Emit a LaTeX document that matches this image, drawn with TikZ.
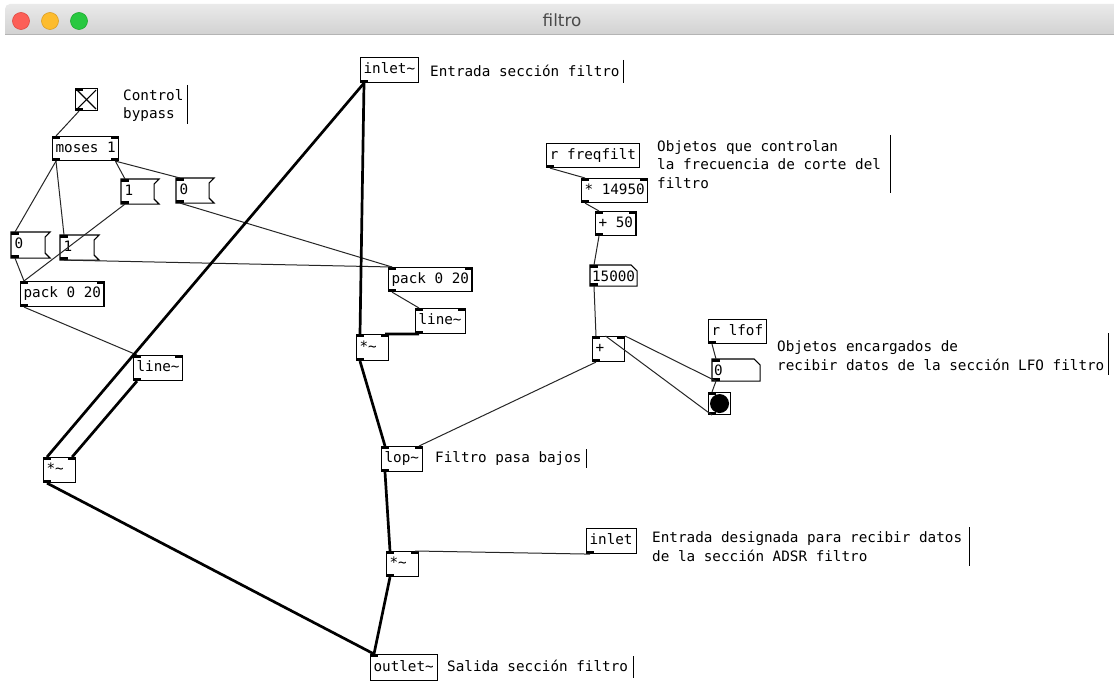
\documentclass[tikz,border=0pt]{standalone}
\usepackage{fontspec}
\newfontfamily\pdfont[WordSpace={1,0,0}]{DejaVu Sans Mono}
\newfontfamily\titlefont{DejaVu Sans}
\definecolor{tbtop}{HTML}{EAEAEA}
\definecolor{tbbot}{HTML}{D2D2D2}
\definecolor{tbline}{HTML}{B4B4B4}
\definecolor{tbtext}{HTML}{4A4A4A}
\definecolor{lred}{HTML}{FC5F57}
\definecolor{lredE}{HTML}{DE4A42}
\definecolor{lyel}{HTML}{FDBC2E}
\definecolor{lyelE}{HTML}{DC9E25}
\definecolor{lgrn}{HTML}{28C840}
\definecolor{lgrnE}{HTML}{1DAA2F}
% inlet / outlet markers of a box
\newcommand\inletL[1]{\fill (#1.north west) rectangle ++(8,3);}
\newcommand\inletR[1]{\fill (#1.north east) rectangle ++(-8,3);}
\newcommand\outletL[1]{\fill (#1.south west) rectangle ++(8,-3);}
\newcommand\outletR[1]{\fill (#1.south east) rectangle ++(-8,-3);}
% message box outline (flag on the right side)
\newcommand\msgframe[1]{\draw[boxline] (#1.north west) -- (#1.north east)
  -- ([shift={(-5,5)}]#1.north east) -- ([shift={(-5,-5)}]#1.south east)
  -- (#1.south east) -- (#1.south west) -- cycle;}
% number box outline (clipped top right corner)
\newcommand\numframe[1]{\draw[boxline] (#1.north west) -- ([shift={(-6,0)}]#1.north east)
  -- ([shift={(0,6)}]#1.north east) -- (#1.south east) -- (#1.south west) -- cycle;}
\begin{document}
\begin{tikzpicture}[x=1pt,y=-1pt,
  pd/.style={font={\pdfont\fontsize{14.3pt}{18.5pt}\selectfont}, text=black},
  boxline/.style={line width=1.1pt},
  box/.style={pd, draw, boxline, inner xsep=3pt, inner ysep=0pt, anchor=north west,
    align=left, text height=10.5pt, text depth=3pt, minimum height=24pt},
  atom/.style={box, draw=none},
  numatom/.style={atom, inner xsep=1.5pt, text height=12pt, text depth=1pt},
  ctl/.style={line width=1pt, black!85},
  sig/.style={line width=2.7pt},
  note/.style={pd, anchor=base west, inner sep=0pt, align=left},
  notebar/.style={line width=1pt},
  gui/.style={draw, boxline, inner sep=0pt, minimum size=22pt, anchor=north west},
]
\useasboundingbox (0,0) rectangle (1114,695);
\fill[white] (0,0) rectangle (1114,695);

% window title bar
\shade[top color=tbtop, bottom color=tbbot] (5,34) [rounded corners=5pt] -- (5,4) -- (1120,4) [sharp corners] -- (1120,34) -- cycle;
\draw[tbline, line width=1pt] (5,34.5) -- (1114,34.5);
\filldraw[fill=lred, draw=lredE, line width=0.6pt] (21,21) circle (8.5);
\filldraw[fill=lyel, draw=lyelE, line width=0.6pt] (50,21) circle (8.5);
\filldraw[fill=lgrn, draw=lgrnE, line width=0.6pt] (79,21) circle (8.5);
\node[font={\titlefont\fontsize{16.8pt}{20pt}\selectfont}, text=tbtext, anchor=base, inner sep=0pt] (title) at (562,27) {filtro};

% ---------- bypass control ----------
\node[gui] (tgl) at (75,88) {};
\draw[boxline] ([shift={(2,2)}]tgl.north west) -- ([shift={(-2,-2)}]tgl.south east);
\draw[boxline] ([shift={(-2,2)}]tgl.north east) -- ([shift={(2,-2)}]tgl.south west);
\inletL{tgl}\outletL{tgl}
% multi-line notes are placed by the baseline of their last line
\node[note] (cBypass) at (123,119) {Control\\bypass};
\draw[notebar] (187,85) -- (187,124);

% boxes whose text holds spaces take their natural width
\node[box] (moses) at (52,136) {moses 1};
\inletL{moses}\inletR{moses}\outletL{moses}\outletR{moses}

\node[atom, text width=31pt] (m1T) at (121,179) {1};
\msgframe{m1T}\inletL{m1T}\outletL{m1T}
\node[atom, text width=31pt] (m0T) at (176,178) {0};
\msgframe{m0T}\inletL{m0T}\outletL{m0T}
\node[atom, text width=32pt, minimum height=25pt] (m0L) at (11,232) {0};
\msgframe{m0L}\inletL{m0L}\outletL{m0L}
\node[atom, text width=32pt] (m1L) at (60,235) {1};
\msgframe{m1L}\inletL{m1L}\outletL{m1L}

\node[box, minimum height=25pt] (packL) at (20,281) {pack 0 20};
\inletL{packL}\inletR{packL}\outletL{packL}
\node[box, text width=43pt, minimum height=25pt] (lineL) at (133,355) {line\textasciitilde};
\inletL{lineL}\inletR{lineL}\outletL{lineL}
\node[box, text width=26pt, minimum height=25pt] (mulL) at (43,457) {*\textasciitilde};
\inletL{mulL}\inletR{mulL}\outletL{mulL}

% ---------- signal path ----------
\node[box, text width=52pt, minimum height=25pt] (inS) at (360,57) {inlet\textasciitilde};
\outletL{inS}
\node[note] (cIn) at (430,77) {Entrada sección filtro};
\draw[notebar] (623,60) -- (623,83);

\node[box] (packM) at (388,267) {pack 0 20};
\inletL{packM}\inletR{packM}\outletL{packM}
\node[box, text width=44pt, minimum height=25pt] (lineM) at (415,308) {line\textasciitilde};
\inletL{lineM}\inletR{lineM}\outletL{lineM}
\node[box, text width=26pt, minimum height=26pt] (mulM) at (356,334) {*\textasciitilde};
\inletL{mulM}\inletR{mulM}\outletL{mulM}

\node[box, text width=35pt, minimum height=25pt] (lop) at (381,446) {lop\textasciitilde};
\inletL{lop}\inletR{lop}\outletL{lop}
\node[note] (cLop) at (435,462) {Filtro pasa bajos};
\draw[notebar] (586,449) -- (586,468);

\node[box, text width=26pt, minimum height=25pt] (mulB) at (386,551) {*\textasciitilde};
\inletL{mulB}\inletR{mulB}\outletL{mulB}
\node[box, text width=44pt, minimum height=25pt] (inC) at (586,528) {inlet};
\outletL{inC}
\node[note] (cAdsr) at (652,561) {Entrada designada para recibir datos\\de la sección ADSR filtro};
\draw[notebar] (969,527) -- (969,566);

\node[box, text width=61pt, minimum height=26pt] (outS) at (370,654) {outlet\textasciitilde};
\inletL{outS}
\node[note] (cOut) at (447,671.5) {Salida sección filtro};
\draw[notebar] (633,656) -- (633,678);

% ---------- cutoff frequency ----------
\node[box, inner xsep=3.4pt] (rfreq) at (546,143) {r freqfilt};
\outletL{rfreq}
\node[note] (cFreq) at (657,188.5) {Objetos que controlan\\la frecuencia de corte del\\filtro};
\draw[notebar] (890,135) -- (890,193);
\node[box] (m14950) at (581,178) {* 14950};
\inletL{m14950}\inletR{m14950}\outletL{m14950}
\node[box] (a50) at (595,211) {+ 50};
\inletL{a50}\inletR{a50}\outletL{a50}
\node[numatom, text width=43pt, minimum height=20pt] (n15000) at (590,265) {15000};
\numframe{n15000}\inletL{n15000}\outletL{n15000}
\node[box, text width=26pt, minimum height=25pt] (add) at (592,336) {+};
\inletL{add}\inletR{add}\outletL{add}

% ---------- LFO input ----------
\node[box] (rlfof) at (708,319) {r lfof};
\outletL{rlfof}
\node[numatom, text width=44pt, minimum height=21pt] (num0) at (712,359) {0};
\numframe{num0}\inletL{num0}\outletL{num0}
\node[gui] (bng) at (708,392) {};
\fill (bng.center) circle (9.5);
\inletL{bng}\outletL{bng}
\node[note] (cLfo) at (777,370) {Objetos encargados de\\recibir datos de la sección LFO filtro};
\draw[notebar] (1108,333) -- (1108,375);

% ---------- connections ----------
\draw[ctl] ([xshift=4pt]tgl.south west) -- ([xshift=4pt]moses.north west);
\draw[ctl] ([xshift=4pt]moses.south west) -- ([xshift=4pt]m0L.north west);
\draw[ctl] ([xshift=4pt]moses.south west) -- ([xshift=4pt]m1L.north west);
\draw[ctl] ([xshift=-4pt]moses.south east) -- ([xshift=4pt]m1T.north west);
\draw[ctl] ([xshift=-4pt]moses.south east) -- ([xshift=4pt]m0T.north west);
\draw[ctl] ([xshift=4pt]m1T.south west) -- ([xshift=4pt]packL.north west);
\draw[ctl] ([xshift=4pt]m0L.south west) -- ([xshift=4pt]packL.north west);
\draw[ctl] ([xshift=4pt]m1L.south west) -- ([xshift=4pt]packM.north west);
\draw[ctl] ([xshift=4pt]m0T.south west) -- ([xshift=4pt]packM.north west);
\draw[ctl] ([xshift=4pt]packL.south west) -- ([xshift=4pt]lineL.north west);
\draw[sig] ([xshift=4pt]lineL.south west) -- ([xshift=-4pt]mulL.north east);
\draw[sig] ([xshift=4pt]inS.south west) -- ([xshift=4pt]mulL.north west);
\draw[sig] ([xshift=4pt]inS.south west) -- ([xshift=4pt]mulM.north west);
\draw[ctl] ([xshift=4pt]packM.south west) -- ([xshift=4pt]lineM.north west);
\draw[sig] ([xshift=4pt]lineM.south west) -- ([xshift=-4pt]mulM.north east);
\draw[sig] ([xshift=4pt]mulM.south west) -- ([xshift=4pt]lop.north west);
\draw[ctl] ([xshift=4pt]add.south west) -- ([xshift=-4pt]lop.north east);
\draw[sig] ([xshift=4pt]lop.south west) -- ([xshift=4pt]mulB.north west);
\draw[ctl] ([xshift=4pt]inC.south west) -- ([xshift=-4pt]mulB.north east);
\draw[sig] ([xshift=4pt]mulB.south west) -- ([xshift=4pt]outS.north west);
\draw[sig] ([xshift=4pt]mulL.south west) -- ([xshift=4pt]outS.north west);
\draw[ctl] ([xshift=4pt]rfreq.south west) -- ([xshift=4pt]m14950.north west);
\draw[ctl] ([xshift=4pt]m14950.south west) -- ([xshift=4pt]a50.north west);
\draw[ctl] ([xshift=4pt]a50.south west) -- ([xshift=4pt]n15000.north west);
\draw[ctl] ([xshift=4pt]n15000.south west) -- ([xshift=4pt]add.north west);
\draw[ctl] ([xshift=4pt]num0.south west) -- (add.north east);
\draw[ctl] ([xshift=4pt]bng.south west) -- ([xshift=-3pt]add.north);
\draw[ctl] ([xshift=4pt]rlfof.south west) -- ([xshift=4pt]num0.north west);
\draw[ctl] ([xshift=4pt]num0.south west) -- ([xshift=4pt]bng.north west);
\end{tikzpicture}
\end{document}
